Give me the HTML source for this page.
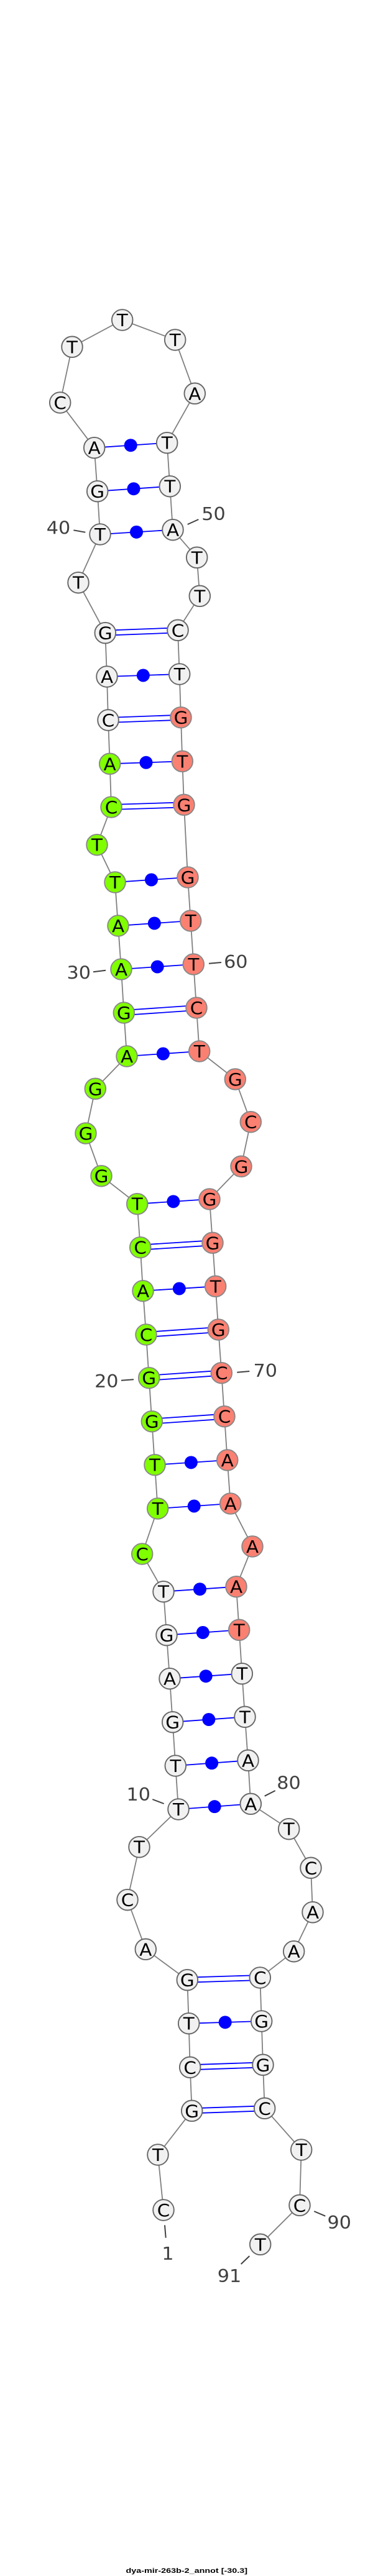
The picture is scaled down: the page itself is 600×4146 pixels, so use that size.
<!DOCTYPE html>
<html><head><meta charset="utf-8"><style>
html,body{margin:0;padding:0;background:#fff}
svg{display:block}
.n text{font:27.5px "DejaVu Sans",sans-serif;text-anchor:middle;fill:#000;transform:scaleX(1.07)}
.n circle{r:16.8px;stroke-width:1.9}
.w circle{fill:#f1f1f1;stroke:#666}
.g circle{fill:#7fff00;stroke:#888}
.s circle{fill:#fa8072;stroke:#888}
.l{font:28.5px "DejaVu Sans",sans-serif;text-anchor:middle;fill:#404040;transform-box:fill-box;transform-origin:center;transform:scaleX(1.06)}
.t{stroke:#404040;stroke-width:2;fill:none}
</style></head><body>
<svg xmlns="http://www.w3.org/2000/svg" width="600" height="4146" viewBox="0 0 600 4146">
<rect width="600" height="4146" fill="#fff"/>
<polyline fill="none" stroke="#808080" stroke-width="1.8" points="263,3557 254,3468 308.7,3397.3 305.7,3327.3 303.7,3256.7 301.3,3186.7 234.3,3137.3 205,3057.7 224,2972.7 287,2912 282.3,2842 277.7,2771.7 273,2701.7 268,2631.7 263,2561.7 228.7,2501 253.7,2428 249,2357.7 244.3,2287.7 239.7,2217.7 235,2148 230,2077.7 225.7,2007.7 220.7,1937.7 163,1892.7 138,1824 153.3,1752.3 204,1700 199.3,1630 195,1560 190,1490 185,1420 156,1359.7 179,1299 176.7,1229.3 174,1159 172,1089 169.3,1018.7 126,937.7 161,860 156.7,790.7 151.7,720.7 96.7,648 116,558.3 196.7,515 281.7,547 313.3,633.3 268.7,712.7 273.3,782.7 278,852.7 316.7,897.3 321.3,959.3 286,1014.3 288.7,1085 291,1154.7 293.3,1225.3 296,1295.3 302,1412 306.7,1482 311.3,1552 316,1622 320.7,1692 378.3,1737 403.3,1805.7 388,1877.3 337,1930 342,2000.3 346.7,2070.3 351.3,2140 356.3,2209.7 361,2279.7 365.7,2350 370.7,2420 406,2489 380,2553.7 384.7,2623.3 389.3,2693.7 394,2763.3 399,2833.3 403.3,2903.3 464.7,2943.7 500,3006.3 503,3077.7 472.7,3140.7 418.3,3183 420.7,3253 423,3323.3 425.7,3393.3 484.7,3460 482,3549.3 418.7,3612.3"/>
<path fill="none" stroke="#0000ff" stroke-width="1.8" d="
M303.7 3256.7L420.7 3253M287 2912L403.3 2903.3M282.3 2842L399 2833.3M277.7 2771.7L394 2763.3M273 2701.7L389.3 2693.7M268 2631.7L384.7 2623.3M263 2561.7L380 2553.7M253.7 2428L370.7 2420M249 2357.7L365.7 2350M230 2077.7L346.7 2070.3M220.7 1937.7L337 1930M204 1700L320.7 1692M195 1560L311.3 1552M190 1490L306.7 1482M185 1420L302 1412M176.7 1229.3L293.3 1225.3M172 1089L288.7 1085M161 860L278 852.7M156.7 790.7L273.3 782.7M151.7 720.7L268.7 712.7
M308.7 3393.3L425.7 3389.3M308.7 3401.3L425.7 3397.3
M305.7 3323.3L423 3319.3M305.7 3331.3L423 3327.3
M301.3 3182.7L418.3 3179M301.3 3190.7L418.3 3187
M244.3 2283.7L361 2275.7M244.3 2291.7L361 2283.7
M239.7 2213.7L356.3 2205.7M239.7 2221.7L356.3 2213.7
M235 2144L351.3 2136M235 2152L351.3 2144
M225.7 2003.7L342 1996.3M225.7 2011.7L342 2004.3
M199.3 1626L316 1618M199.3 1634L316 1626
M179 1295L296 1291.3M179 1303L296 1299.3
M174 1155L291 1150.7M174 1163L291 1158.7
M169.3 1014.7L286 1010.3M169.3 1022.7L286 1018.3"/>
<g fill="#0000ff">
<circle cx="362.2" cy="3254.85" r="10.5"/><circle cx="345.15" cy="2907.65" r="10.5"/><circle cx="340.65" cy="2837.65" r="10.5"/><circle cx="335.85" cy="2767.5" r="10.5"/><circle cx="331.15" cy="2697.7" r="10.5"/><circle cx="326.35" cy="2627.5" r="10.5"/><circle cx="321.5" cy="2557.7" r="10.5"/><circle cx="312.2" cy="2424" r="10.5"/><circle cx="307.35" cy="2353.85" r="10.5"/><circle cx="288.35" cy="2074" r="10.5"/><circle cx="278.85" cy="1933.85" r="10.5"/><circle cx="262.35" cy="1696" r="10.5"/><circle cx="253.15" cy="1556" r="10.5"/><circle cx="248.35" cy="1486" r="10.5"/><circle cx="243.5" cy="1416" r="10.5"/><circle cx="235" cy="1227.3" r="10.5"/><circle cx="230.35" cy="1087" r="10.5"/><circle cx="219.5" cy="856.35" r="10.5"/><circle cx="215" cy="786.7" r="10.5"/><circle cx="210.2" cy="716.7" r="10.5"/>
</g>
<g class="n w" transform="translate(263,3557)"><circle/><text y="10">C</text></g>
<g class="n w" transform="translate(254,3468)"><circle/><text y="10">T</text></g>
<g class="n w" transform="translate(308.7,3397.3)"><circle/><text y="10">G</text></g>
<g class="n w" transform="translate(305.7,3327.3)"><circle/><text y="10">C</text></g>
<g class="n w" transform="translate(303.7,3256.7)"><circle/><text y="10">T</text></g>
<g class="n w" transform="translate(301.3,3186.7)"><circle/><text y="10">G</text></g>
<g class="n w" transform="translate(234.3,3137.3)"><circle/><text y="10">A</text></g>
<g class="n w" transform="translate(205,3057.7)"><circle/><text y="10">C</text></g>
<g class="n w" transform="translate(224,2972.7)"><circle/><text y="10">T</text></g>
<g class="n w" transform="translate(287,2912)"><circle/><text y="10">T</text></g>
<g class="n w" transform="translate(282.3,2842)"><circle/><text y="10">T</text></g>
<g class="n w" transform="translate(277.7,2771.7)"><circle/><text y="10">G</text></g>
<g class="n w" transform="translate(273,2701.7)"><circle/><text y="10">A</text></g>
<g class="n w" transform="translate(268,2631.7)"><circle/><text y="10">G</text></g>
<g class="n w" transform="translate(263,2561.7)"><circle/><text y="10">T</text></g>
<g class="n g" transform="translate(228.7,2501)"><circle/><text y="10">C</text></g>
<g class="n g" transform="translate(253.7,2428)"><circle/><text y="10">T</text></g>
<g class="n g" transform="translate(249,2357.7)"><circle/><text y="10">T</text></g>
<g class="n g" transform="translate(244.3,2287.7)"><circle/><text y="10">G</text></g>
<g class="n g" transform="translate(239.7,2217.7)"><circle/><text y="10">G</text></g>
<g class="n g" transform="translate(235,2148)"><circle/><text y="10">C</text></g>
<g class="n g" transform="translate(230,2077.7)"><circle/><text y="10">A</text></g>
<g class="n g" transform="translate(225.7,2007.7)"><circle/><text y="10">C</text></g>
<g class="n g" transform="translate(220.7,1937.7)"><circle/><text y="10">T</text></g>
<g class="n g" transform="translate(163,1892.7)"><circle/><text y="10">G</text></g>
<g class="n g" transform="translate(138,1824)"><circle/><text y="10">G</text></g>
<g class="n g" transform="translate(153.3,1752.3)"><circle/><text y="10">G</text></g>
<g class="n g" transform="translate(204,1700)"><circle/><text y="10">A</text></g>
<g class="n g" transform="translate(199.3,1630)"><circle/><text y="10">G</text></g>
<g class="n g" transform="translate(195,1560)"><circle/><text y="10">A</text></g>
<g class="n g" transform="translate(190,1490)"><circle/><text y="10">A</text></g>
<g class="n g" transform="translate(185,1420)"><circle/><text y="10">T</text></g>
<g class="n g" transform="translate(156,1359.7)"><circle/><text y="10">T</text></g>
<g class="n g" transform="translate(179,1299)"><circle/><text y="10">C</text></g>
<g class="n g" transform="translate(176.7,1229.3)"><circle/><text y="10">A</text></g>
<g class="n w" transform="translate(174,1159)"><circle/><text y="10">C</text></g>
<g class="n w" transform="translate(172,1089)"><circle/><text y="10">A</text></g>
<g class="n w" transform="translate(169.3,1018.7)"><circle/><text y="10">G</text></g>
<g class="n w" transform="translate(126,937.7)"><circle/><text y="10">T</text></g>
<g class="n w" transform="translate(161,860)"><circle/><text y="10">T</text></g>
<g class="n w" transform="translate(156.7,790.7)"><circle/><text y="10">G</text></g>
<g class="n w" transform="translate(151.7,720.7)"><circle/><text y="10">A</text></g>
<g class="n w" transform="translate(96.7,648)"><circle/><text y="10">C</text></g>
<g class="n w" transform="translate(116,558.3)"><circle/><text y="10">T</text></g>
<g class="n w" transform="translate(196.7,515)"><circle/><text y="10">T</text></g>
<g class="n w" transform="translate(281.7,547)"><circle/><text y="10">T</text></g>
<g class="n w" transform="translate(313.3,633.3)"><circle/><text y="10">A</text></g>
<g class="n w" transform="translate(268.7,712.7)"><circle/><text y="10">T</text></g>
<g class="n w" transform="translate(273.3,782.7)"><circle/><text y="10">T</text></g>
<g class="n w" transform="translate(278,852.7)"><circle/><text y="10">A</text></g>
<g class="n w" transform="translate(316.7,897.3)"><circle/><text y="10">T</text></g>
<g class="n w" transform="translate(321.3,959.3)"><circle/><text y="10">T</text></g>
<g class="n w" transform="translate(286,1014.3)"><circle/><text y="10">C</text></g>
<g class="n w" transform="translate(288.7,1085)"><circle/><text y="10">T</text></g>
<g class="n s" transform="translate(291,1154.7)"><circle/><text y="10">G</text></g>
<g class="n s" transform="translate(293.3,1225.3)"><circle/><text y="10">T</text></g>
<g class="n s" transform="translate(296,1295.3)"><circle/><text y="10">G</text></g>
<g class="n s" transform="translate(302,1412)"><circle/><text y="10">G</text></g>
<g class="n s" transform="translate(306.7,1482)"><circle/><text y="10">T</text></g>
<g class="n s" transform="translate(311.3,1552)"><circle/><text y="10">T</text></g>
<g class="n s" transform="translate(316,1622)"><circle/><text y="10">C</text></g>
<g class="n s" transform="translate(320.7,1692)"><circle/><text y="10">T</text></g>
<g class="n s" transform="translate(378.3,1737)"><circle/><text y="10">G</text></g>
<g class="n s" transform="translate(403.3,1805.7)"><circle/><text y="10">C</text></g>
<g class="n s" transform="translate(388,1877.3)"><circle/><text y="10">G</text></g>
<g class="n s" transform="translate(337,1930)"><circle/><text y="10">G</text></g>
<g class="n s" transform="translate(342,2000.3)"><circle/><text y="10">G</text></g>
<g class="n s" transform="translate(346.7,2070.3)"><circle/><text y="10">T</text></g>
<g class="n s" transform="translate(351.3,2140)"><circle/><text y="10">G</text></g>
<g class="n s" transform="translate(356.3,2209.7)"><circle/><text y="10">C</text></g>
<g class="n s" transform="translate(361,2279.7)"><circle/><text y="10">C</text></g>
<g class="n s" transform="translate(365.7,2350)"><circle/><text y="10">A</text></g>
<g class="n s" transform="translate(370.7,2420)"><circle/><text y="10">A</text></g>
<g class="n s" transform="translate(406,2489)"><circle/><text y="10">A</text></g>
<g class="n s" transform="translate(380,2553.7)"><circle/><text y="10">A</text></g>
<g class="n s" transform="translate(384.7,2623.3)"><circle/><text y="10">T</text></g>
<g class="n w" transform="translate(389.3,2693.7)"><circle/><text y="10">T</text></g>
<g class="n w" transform="translate(394,2763.3)"><circle/><text y="10">T</text></g>
<g class="n w" transform="translate(399,2833.3)"><circle/><text y="10">A</text></g>
<g class="n w" transform="translate(403.3,2903.3)"><circle/><text y="10">A</text></g>
<g class="n w" transform="translate(464.7,2943.7)"><circle/><text y="10">T</text></g>
<g class="n w" transform="translate(500,3006.3)"><circle/><text y="10">C</text></g>
<g class="n w" transform="translate(503,3077.7)"><circle/><text y="10">A</text></g>
<g class="n w" transform="translate(472.7,3140.7)"><circle/><text y="10">A</text></g>
<g class="n w" transform="translate(418.3,3183)"><circle/><text y="10">C</text></g>
<g class="n w" transform="translate(420.7,3253)"><circle/><text y="10">G</text></g>
<g class="n w" transform="translate(423,3323.3)"><circle/><text y="10">G</text></g>
<g class="n w" transform="translate(425.7,3393.3)"><circle/><text y="10">C</text></g>
<g class="n w" transform="translate(484.7,3460)"><circle/><text y="10">T</text></g>
<g class="n w" transform="translate(482,3549.3)"><circle/><text y="10">C</text></g>
<g class="n w" transform="translate(418.7,3612.3)"><circle/><text y="10">T</text></g>
<path class="t" d="M265 3581.3L266.7 3601.7M245.3 2896L263.7 2903M195 2221.7L215 2220.3M150 1564.3L170 1561.7M118.3 853.3L137.3 856.7M301.7 844L319.3 836M336 1550.7L356 1549M381.3 2208.7L401.3 2207M425.7 2890.7L442.7 2882M505.3 3559L523.3 3566.7M401.3 3631L387.7 3644"/>
<text class="l" x="270" y="3637">1</text>
<text class="l" x="222.7" y="2898">10</text>
<text class="l" x="171.3" y="2233">20</text>
<text class="l" x="126.7" y="1575.5">30</text>
<text class="l" x="94" y="859.5">40</text>
<text class="l" x="343.5" y="837">50</text>
<text class="l" x="379.3" y="1558">60</text>
<text class="l" x="426.7" y="2216">70</text>
<text class="l" x="464.5" y="2879.5">80</text>
<text class="l" x="545.7" y="3587">90</text>
<text class="l" x="369" y="3673">91</text>
<text x="202.5" y="4141" textLength="195.5" lengthAdjust="spacingAndGlyphs" style="font:bold 11px 'Liberation Sans',sans-serif;fill:#000">dya-mir-263b-2_annot [-30.3]</text>
</svg>
</body></html>
